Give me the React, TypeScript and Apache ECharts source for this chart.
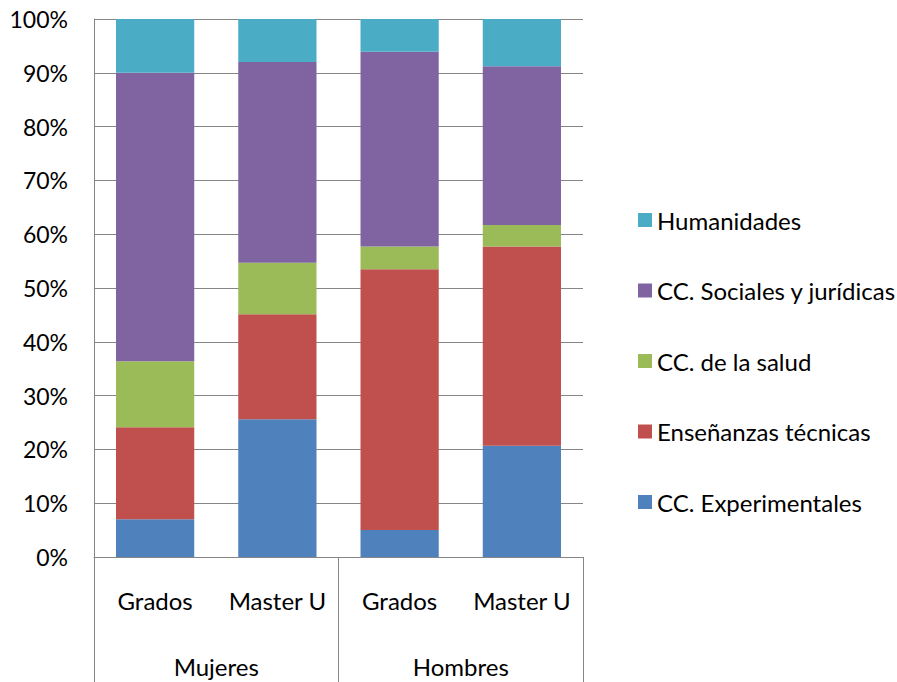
import React, { useEffect, useRef } from "react";
import * as echarts from "echarts";

const categories = ["Grados", "Master U", "Grados", "Master U"];
const groups = ["Mujeres", "Hombres"];
const seriesNames = [
  "CC. Experimentales",
  "Enseñanzas técnicas",
  "CC. de la salud",
  "CC. Sociales y jurídicas",
  "Humanidades",
];
const experimentales = [7.0, 25.6, 5.0, 20.7];
const tecnicas = [17.1, 19.5, 48.5, 37.0];
const salud = [12.3, 9.6, 4.2, 4.0];
const sociales = [53.6, 37.3, 36.2, 29.5];
const humanidades = [10.0, 8.0, 6.1, 8.8];
const colors = ["#4F81BD", "#C0504D", "#9BBB59", "#8064A2", "#4BACC6"];

const FONT = "Lato";
const FS = 24;

export default function App() {
  const ref = useRef<HTMLDivElement>(null);
  useEffect(() => {
    document.body.style.margin = "0";
    if (!ref.current) return;
    const chart = echarts.init(ref.current, null, { renderer: "svg" });
    const values = [experimentales, tecnicas, salud, sociales, humanidades];
    chart.setOption({
      animation: false,
      backgroundColor: "#ffffff",
      textStyle: { fontFamily: FONT },
      grid: { left: 94, right: 314, top: 19, bottom: 125, containLabel: false },
      legend: {
        orient: "vertical",
        left: 633,
        top: 203,
        itemWidth: 14,
        itemHeight: 14,
        itemGap: 46.5,
        icon: "rect",
        data: [...seriesNames].reverse(),
        textStyle: { fontFamily: FONT, fontSize: FS, color: "#000" },
      },
      xAxis: [
        {
          type: "category",
          data: categories,
          position: "bottom",
          axisLine: { show: true, lineStyle: { color: "#868686", width: 1 } },
          axisTick: { show: false },
          axisLabel: { interval: 0, margin: 31, fontFamily: FONT, fontSize: FS, color: "#000" },
        },
        {
          type: "category",
          data: groups,
          position: "bottom",
          offset: 0,
          axisLine: { show: false },
          axisTick: { show: true, length: 130, interval: 0, lineStyle: { color: "#868686", width: 1 } },
          axisLabel: { interval: 0, margin: 97, fontFamily: FONT, fontSize: FS, color: "#000" },
        },
      ],
      yAxis: {
        type: "value",
        min: 0,
        max: 100,
        interval: 10,
        axisLine: { show: true, lineStyle: { color: "#868686", width: 1 } },
        axisTick: { show: false },
        splitLine: { show: true, lineStyle: { color: "#868686", width: 1 } },
        axisLabel: { formatter: "{value}%", margin: 26, fontFamily: FONT, fontSize: 23, color: "#000" },
      },
      series: seriesNames.map((name, i) => ({
        name,
        type: "bar",
        stack: "total",
        xAxisIndex: 0,
        barCategoryGap: "36%",
        data: values[i],
        itemStyle: { color: colors[i] },
      })),
    });
    return () => chart.dispose();
  }, []);
  return <div ref={ref} style={{ width: 897, height: 682 }} />;
}
